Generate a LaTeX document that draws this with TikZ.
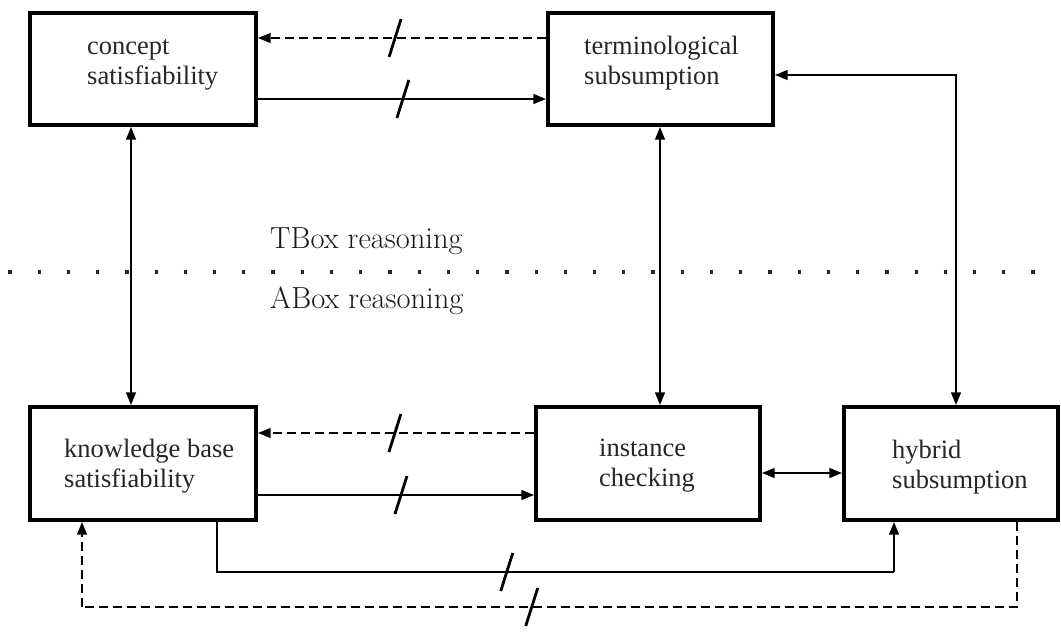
\documentclass[tikz,border=0pt]{standalone}
\usepackage{fontspec}
\newfontfamily\lblfont{Liberation Serif}
\usetikzlibrary{arrows.meta,calc}
\begin{document}
\begin{tikzpicture}[x=1pt,y=-1pt,
  box/.style={draw,line width=3.4pt,inner sep=0pt,minimum height=112pt},
  lbl/.style={anchor=base west,align=left,inner sep=0pt,text=black!85,
    font=\lblfont\fontsize{26.5}{29.5}\selectfont},
  region/.style={anchor=base west,inner sep=0pt,text=black!90,
    font=\fontsize{30.5}{36}\selectfont},
  link/.style={line width=2.8pt},
  dlink/.style={link,dash pattern=on 9pt off 5pt},
  tip/.style={-{Triangle[length=13pt,width=9.5pt]}},
  dbl/.style={{Triangle[length=13pt,width=9.5pt]}-{Triangle[length=13pt,width=9.5pt]}},
  cut/.pic={\draw[solid,line width=2.8pt] (-6,19) -- (6,-19);},
  dotline/.style={line width=3.2pt,dash pattern=on 3.2pt off 26.03pt,black!85}
]
\useasboundingbox (0,0) rectangle (1061,632);

% reasoning services
\node[box,minimum width=226pt] (cs) at (143,69) {};
\node[box,minimum width=225pt] (ts) at (660.5,69) {};
\node[box,minimum width=226pt,minimum height=113pt] (kb) at (143,463.5) {};
\node[box,minimum width=224pt,minimum height=113pt] (ic) at (648,463.5) {};
\node[box,minimum width=214pt,minimum height=113pt] (hs) at (951,463.5) {};

% labels (anchored at the baseline of their last line)
\node[lbl] (lcs) at (87,84) {concept\\satisfiability};
\node[lbl] (lts) at (584,84) {terminological\\subsumption};
\node[lbl] (lkb) at (64,487) {knowledge base\\satisfiability};
\node[lbl] (lic) at (599,486) {instance\\checking};
\node[lbl] (lhs) at (892,488) {hybrid\\subsumption};

% TBox / ABox separator
\draw[dotline] (8.4,272) -- (1038,272);
\node[region] (tbox) at (270,248) {TBox reasoning};
\node[region] (abox) at (270,308) {ABox reasoning};

% reductions
\draw[dlink,tip] (ts.west |- 0,38) -- coordinate[pos=0.524] (m1) (cs.east |- 0,38);
\draw[link,tip] (cs.east |- 0,99) -- coordinate[pos=0.503] (m2) (ts.west |- 0,99);
\draw[dlink,tip] (ic.west |- 0,433) -- coordinate[pos=0.504] (m3) (kb.east |- 0,433);
\draw[link,tip] (kb.east |- 0,495) -- coordinate[pos=0.518] (m4) (ic.west |- 0,495);
\draw[link] (kb.south -| 217,0) -- (217,572) -- coordinate[pos=0.428] (m5) (894,572);
\draw[link,tip] (894,572) -- (hs.south -| 894,0);
\draw[dlink] (hs.south -| 1017,0) -- (1017,607) -- coordinate[pos=0.519] (m6) (82,607);
\draw[dlink,tip] (82,607) -- (kb.south -| 82,0);
\foreach \m in {m1,m2,m3,m4,m5,m6} \pic at (\m) {cut};

% equivalences
\draw[link,dbl] (cs.south -| 131,0) -- (kb.north -| 131,0);
\draw[link,dbl] (ts.south -| 660,0) -- (ic.north -| 660,0);
\draw[link,dbl] (ic.east |- 0,473) -- (hs.west |- 0,473);
\draw[link,dbl] (hs.north -| 956,0) |- (ts.east |- 0,75);
\end{tikzpicture}
\end{document}
